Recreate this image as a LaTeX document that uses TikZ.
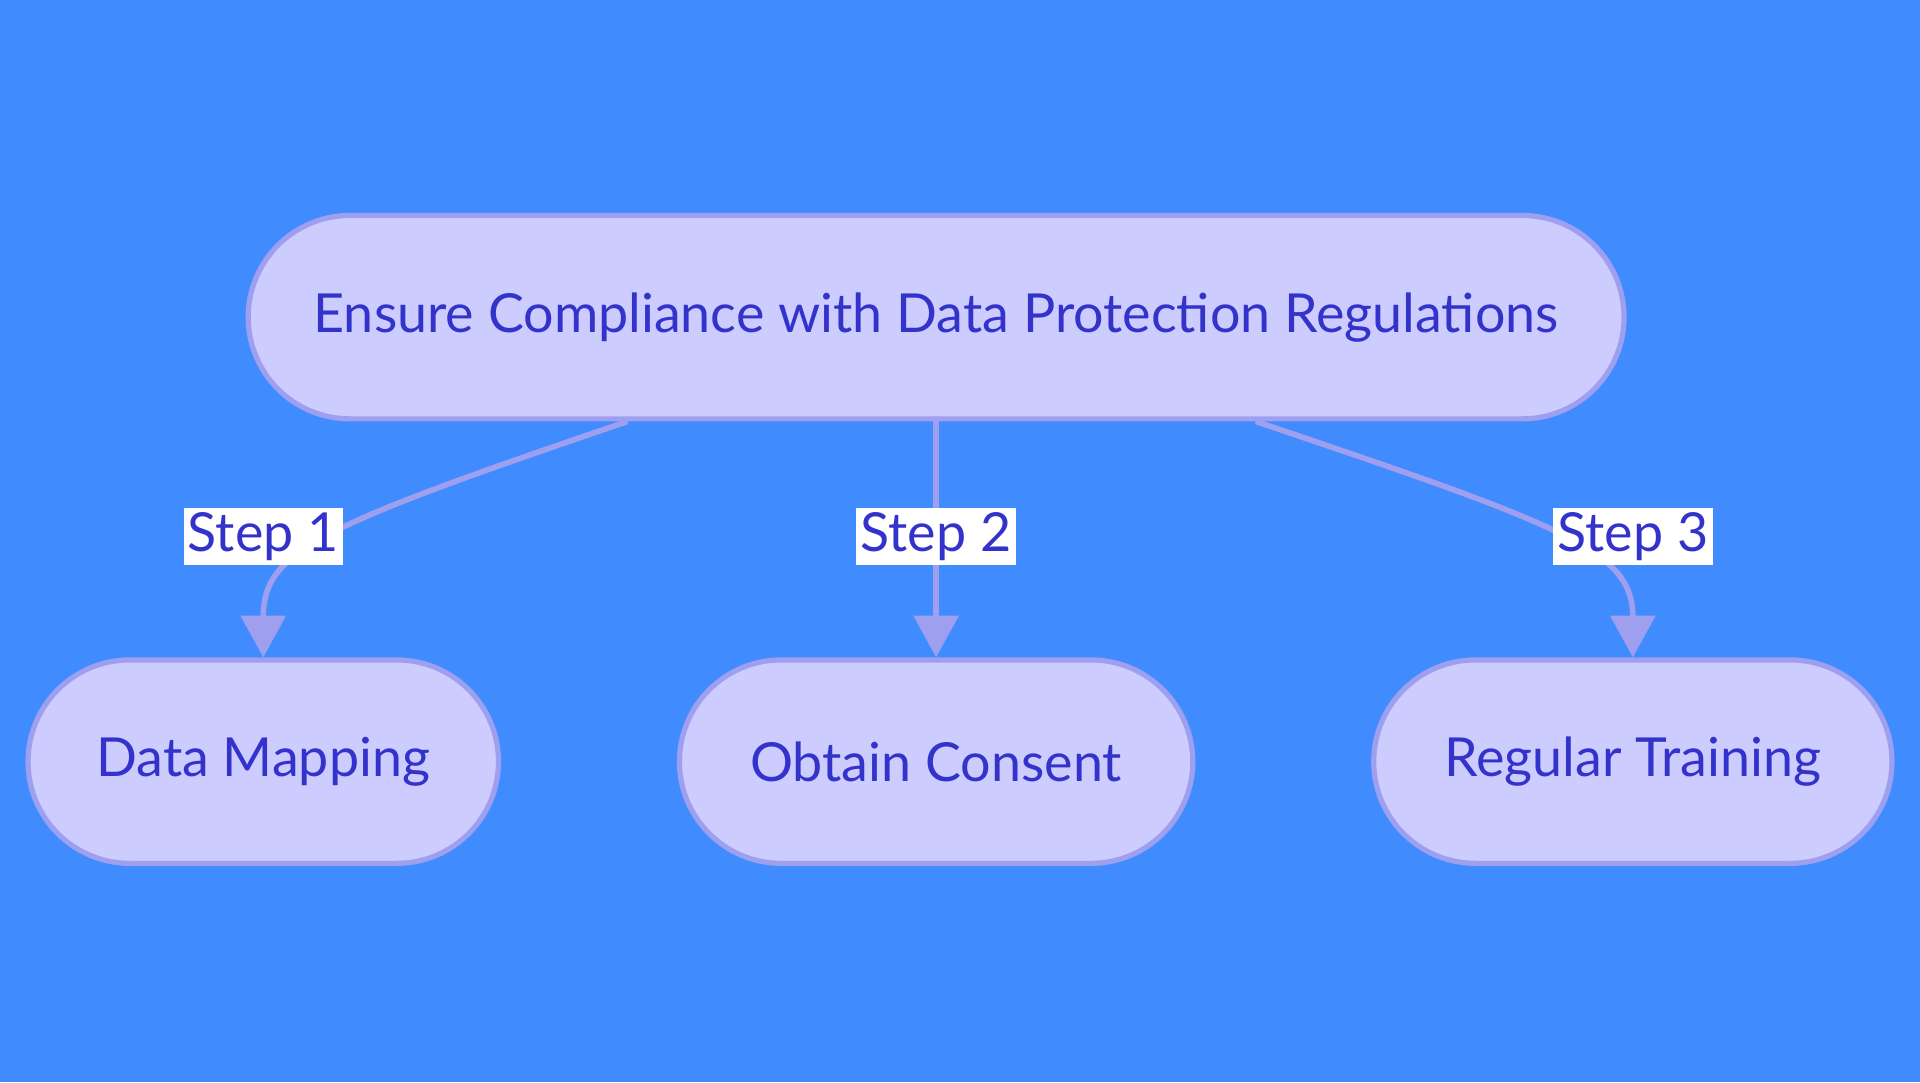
\documentclass[tikz,border=0pt]{standalone}
\usepackage{fontspec}
\setmainfont{Lato}
\usetikzlibrary{arrows.meta,calc}
\definecolor{bgblue}{HTML}{408CFF}
\definecolor{boxfill}{HTML}{CCCCFF}
\definecolor{boxline}{HTML}{9F9FEF}
\definecolor{boxtext}{HTML}{3333CC}
\tikzset{
    stepbox/.style={draw=boxline, line width=1.2pt, fill=boxfill, text=boxtext,
        rounded corners=0.83cm, minimum height=1.66cm, inner sep=0pt,
        font=\fontsize{12.5pt}{14pt}\selectfont},
    link/.style={draw=boxline, line width=1.3pt,
        -{Triangle[width=0.36cm,length=0.34cm]}},
    steplabel/.style={fill=white, text=boxtext, inner sep=1pt,
        font=\fontsize{12.5pt}{14pt}\selectfont}
}
\begin{document}
\begin{tikzpicture}[x=0.01cm,y=-0.01cm]

    % background
    \fill[bgblue] (0,0) rectangle (1568,884);
    \useasboundingbox (0,0) rectangle (1568,884);

    % nodes
    \node[stepbox, minimum width=11.23cm] (goal) at (764.5,259) {Ensure Compliance with Data Protection Regulations};
    \node[stepbox, minimum width=3.84cm] (map) at (215,622) {Data Mapping};
    \node[stepbox, minimum width=4.19cm] (consent) at (764.5,622) {Obtain Consent};
    \node[stepbox, minimum width=4.23cm] (train) at (1333.5,622) {Regular Training};

    % start points on the goal node
    \coordinate (s1) at ($(goal.south)+(-252,0)$);
    \coordinate (s3) at ($(goal.south)+(261,0)$);

    % connectors
    \draw[link] (s1) .. controls (260,430) and (215,450) .. (map.north);
    \draw[link] (goal.south) -- (consent.north);
    \draw[link] (s3) .. controls (1280,430) and (1333.5,450) .. (train.north);

    % labels
    \node[steplabel] (l1) at (215,438) {Step 1};
    \node[steplabel] (l2) at (764.5,438) {Step 2};
    \node[steplabel] (l3) at (1333.5,438) {Step 3};

\end{tikzpicture}
\end{document}
